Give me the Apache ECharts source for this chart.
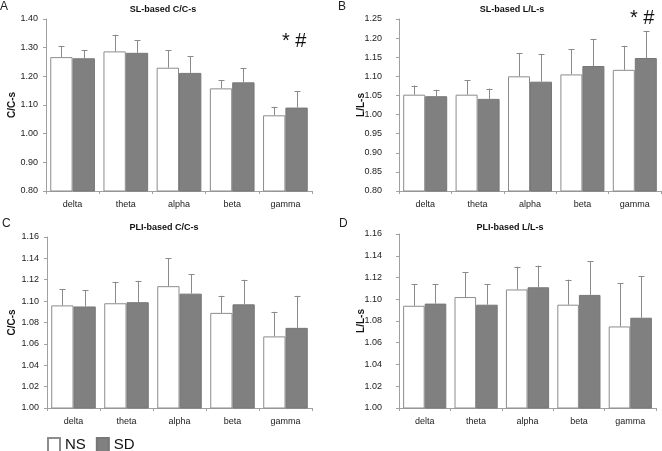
<!DOCTYPE html>
<html>
<head>
<meta charset="utf-8">
<script src="https://cdn.jsdelivr.net/npm/echarts@6/dist/echarts.min.js"></script>
<style>html,body{margin:0;padding:0;background:#fff}#c{width:662px;height:451px}</style>
</head>
<body>
<div id="c"></div>
<script>
const categories = ['delta', 'theta', 'alpha', 'beta', 'gamma'];

const A_NS = [1.267, 1.287, 1.230, 1.158, 1.064];
const A_NS_err = [0.039, 0.058, 0.061, 0.028, 0.030];
const A_SD = [1.263, 1.282, 1.212, 1.179, 1.091];
const A_SD_err = [0.029, 0.044, 0.059, 0.049, 0.058];

const B_NS = [1.052, 1.052, 1.100, 1.105, 1.117];
const B_NS_err = [0.024, 0.038, 0.061, 0.066, 0.063];
const B_SD = [1.048, 1.041, 1.086, 1.127, 1.148];
const B_SD_err = [0.017, 0.027, 0.072, 0.071, 0.071];

const C_NS = [1.096, 1.098, 1.114, 1.089, 1.067];
const C_NS_err = [0.015, 0.020, 0.026, 0.016, 0.023];
const C_SD = [1.095, 1.099, 1.107, 1.097, 1.075];
const C_SD_err = [0.015, 0.020, 0.018, 0.023, 0.030];

const D_NS = [1.094, 1.102, 1.109, 1.095, 1.075];
const D_NS_err = [0.020, 0.023, 0.021, 0.023, 0.040];
const D_SD = [1.096, 1.095, 1.111, 1.104, 1.083];
const D_SD_err = [0.018, 0.019, 0.020, 0.031, 0.038];

const panelTitles = ['SL-based C/C-s', 'SL-based L/L-s', 'PLI-based C/C-s', 'PLI-based L/L-s'];
const panelLetters = ['A', 'B', 'C', 'D'];
const yNames = ['C/C-s', 'L/L-s', 'C/C-s', 'L/L-s'];
const yMin = [0.80, 0.80, 1.00, 1.00];
const yMax = [1.40, 1.25, 1.16, 1.16];
const yStep = [0.10, 0.05, 0.02, 0.02];

const panels = [
  {ns: A_NS, nsErr: A_NS_err, sd: A_SD, sdErr: A_SD_err},
  {ns: B_NS, nsErr: B_NS_err, sd: B_SD, sdErr: B_SD_err},
  {ns: C_NS, nsErr: C_NS_err, sd: C_SD, sdErr: C_SD_err},
  {ns: D_NS, nsErr: D_NS_err, sd: D_SD, sdErr: D_SD_err}
];

const FONT = "'Liberation Sans', Arial, sans-serif";
const AXIS_COLOR = '#a0a0a0';
const grids = [
  {left: 46, top: 19, width: 266, height: 172},
  {left: 399, top: 19, width: 262, height: 172},
  {left: 47, top: 237, width: 265, height: 171},
  {left: 399, top: 234, width: 257, height: 174}
];
const yLabelMargin = [8, 17, 8, 17];
const yNameGap = [29, 33, 30, 33];

const CAT_GAP = 0.16;
const half = (1 - CAT_GAP) / 4;

function errRender(offset) {
  return function (params, api) {
    const x = api.value(0), y = api.value(1), e = api.value(2);
    const bw = api.size([1, 0])[0];
    const b = api.coord([x, y]);
    const t = api.coord([x, y + e]);
    const cx = Math.round(b[0] + offset * half * bw) + 0.5;
    const style = {stroke: '#8a8a8a', lineWidth: 1};
    return {
      type: 'group',
      children: [
        {type: 'line', shape: {x1: cx, y1: b[1], x2: cx, y2: t[1]}, style: style},
        {type: 'line', shape: {x1: cx - 3, y1: Math.round(t[1]) + 0.5, x2: cx + 3, y2: Math.round(t[1]) + 0.5}, style: style}
      ]
    };
  };
}

const xAxis = [], yAxis = [], series = [];
panels.forEach((p, i) => {
  xAxis.push({
    type: 'category', gridIndex: i, data: categories,
    axisLine: {lineStyle: {color: AXIS_COLOR}},
    axisTick: {show: true, length: 3, lineStyle: {color: AXIS_COLOR}, interval: 0},
    axisLabel: {color: '#222', fontSize: 9, fontFamily: FONT, margin: 9, interval: 0},
    splitLine: {show: false}
  });
  yAxis.push({
    type: 'value', gridIndex: i, min: yMin[i], max: yMax[i], interval: yStep[i],
    name: yNames[i], nameLocation: 'middle', nameRotate: 90, nameGap: yNameGap[i],
    nameMoveOverlap: false,
    nameTextStyle: {color: '#111', fontSize: 10, fontWeight: 'bold', fontFamily: FONT},
    axisLine: {show: true, lineStyle: {color: AXIS_COLOR}},
    axisTick: {show: true, length: 3, lineStyle: {color: AXIS_COLOR}},
    axisLabel: {color: '#222', fontSize: 9, fontFamily: FONT, margin: yLabelMargin[i], formatter: v => v.toFixed(2)},
    splitLine: {show: false}
  });
  series.push({
    name: 'NS', type: 'bar', xAxisIndex: i, yAxisIndex: i, data: p.ns,
    barGap: 0, barCategoryGap: (CAT_GAP * 100) + '%',
    itemStyle: {color: '#ffffff', borderColor: '#8c8c8c', borderWidth: 1}
  });
  series.push({
    name: 'SD', type: 'bar', xAxisIndex: i, yAxisIndex: i, data: p.sd,
    barGap: 0, barCategoryGap: (CAT_GAP * 100) + '%',
    itemStyle: {color: '#808080', borderColor: '#777777', borderWidth: 1}
  });
  series.push({
    type: 'custom', xAxisIndex: i, yAxisIndex: i, z: 5,
    renderItem: errRender(-1),
    data: p.ns.map((v, k) => [k, v, p.nsErr[k]])
  });
  series.push({
    type: 'custom', xAxisIndex: i, yAxisIndex: i, z: 5,
    renderItem: errRender(1),
    data: p.sd.map((v, k) => [k, v, p.sdErr[k]])
  });
});

const titlePos = [[163, 10], [512, 10], [164, 228], [510, 228]];
const letterPos = [[0, 7], [338, 7], [2, 224], [339, 224]];
const markPos = [[282, 41], [630, 18]];
const graphic = [];
panelTitles.forEach((t, i) => {
  graphic.push({type: 'text', x: titlePos[i][0], y: titlePos[i][1],
    style: {text: t, align: 'center', verticalAlign: 'middle', fill: '#111', font: 'bold 9px ' + FONT}});
  graphic.push({type: 'text', x: letterPos[i][0], y: letterPos[i][1],
    style: {text: panelLetters[i], align: 'left', verticalAlign: 'middle', fill: '#222', font: '12px ' + FONT}});
});
markPos.forEach(m => {
  graphic.push({type: 'text', x: m[0], y: m[1],
    style: {text: '* #', align: 'left', verticalAlign: 'middle', fill: '#111', font: '20px ' + FONT}});
});

const chart = echarts.init(document.getElementById('c'), null, {renderer: 'canvas'});
chart.setOption({
  animation: false,
  backgroundColor: '#fff',
  grid: grids,
  xAxis: xAxis,
  yAxis: yAxis,
  legend: {
    data: ['NS', 'SD'], left: 47, top: 437, padding: 0,
    itemWidth: 12, itemHeight: 14, itemGap: 10, icon: 'rect',
    textStyle: {fontSize: 15, color: '#111', fontFamily: FONT}
  },
  graphic: graphic,
  series: series
});
</script>
</body>
</html>
